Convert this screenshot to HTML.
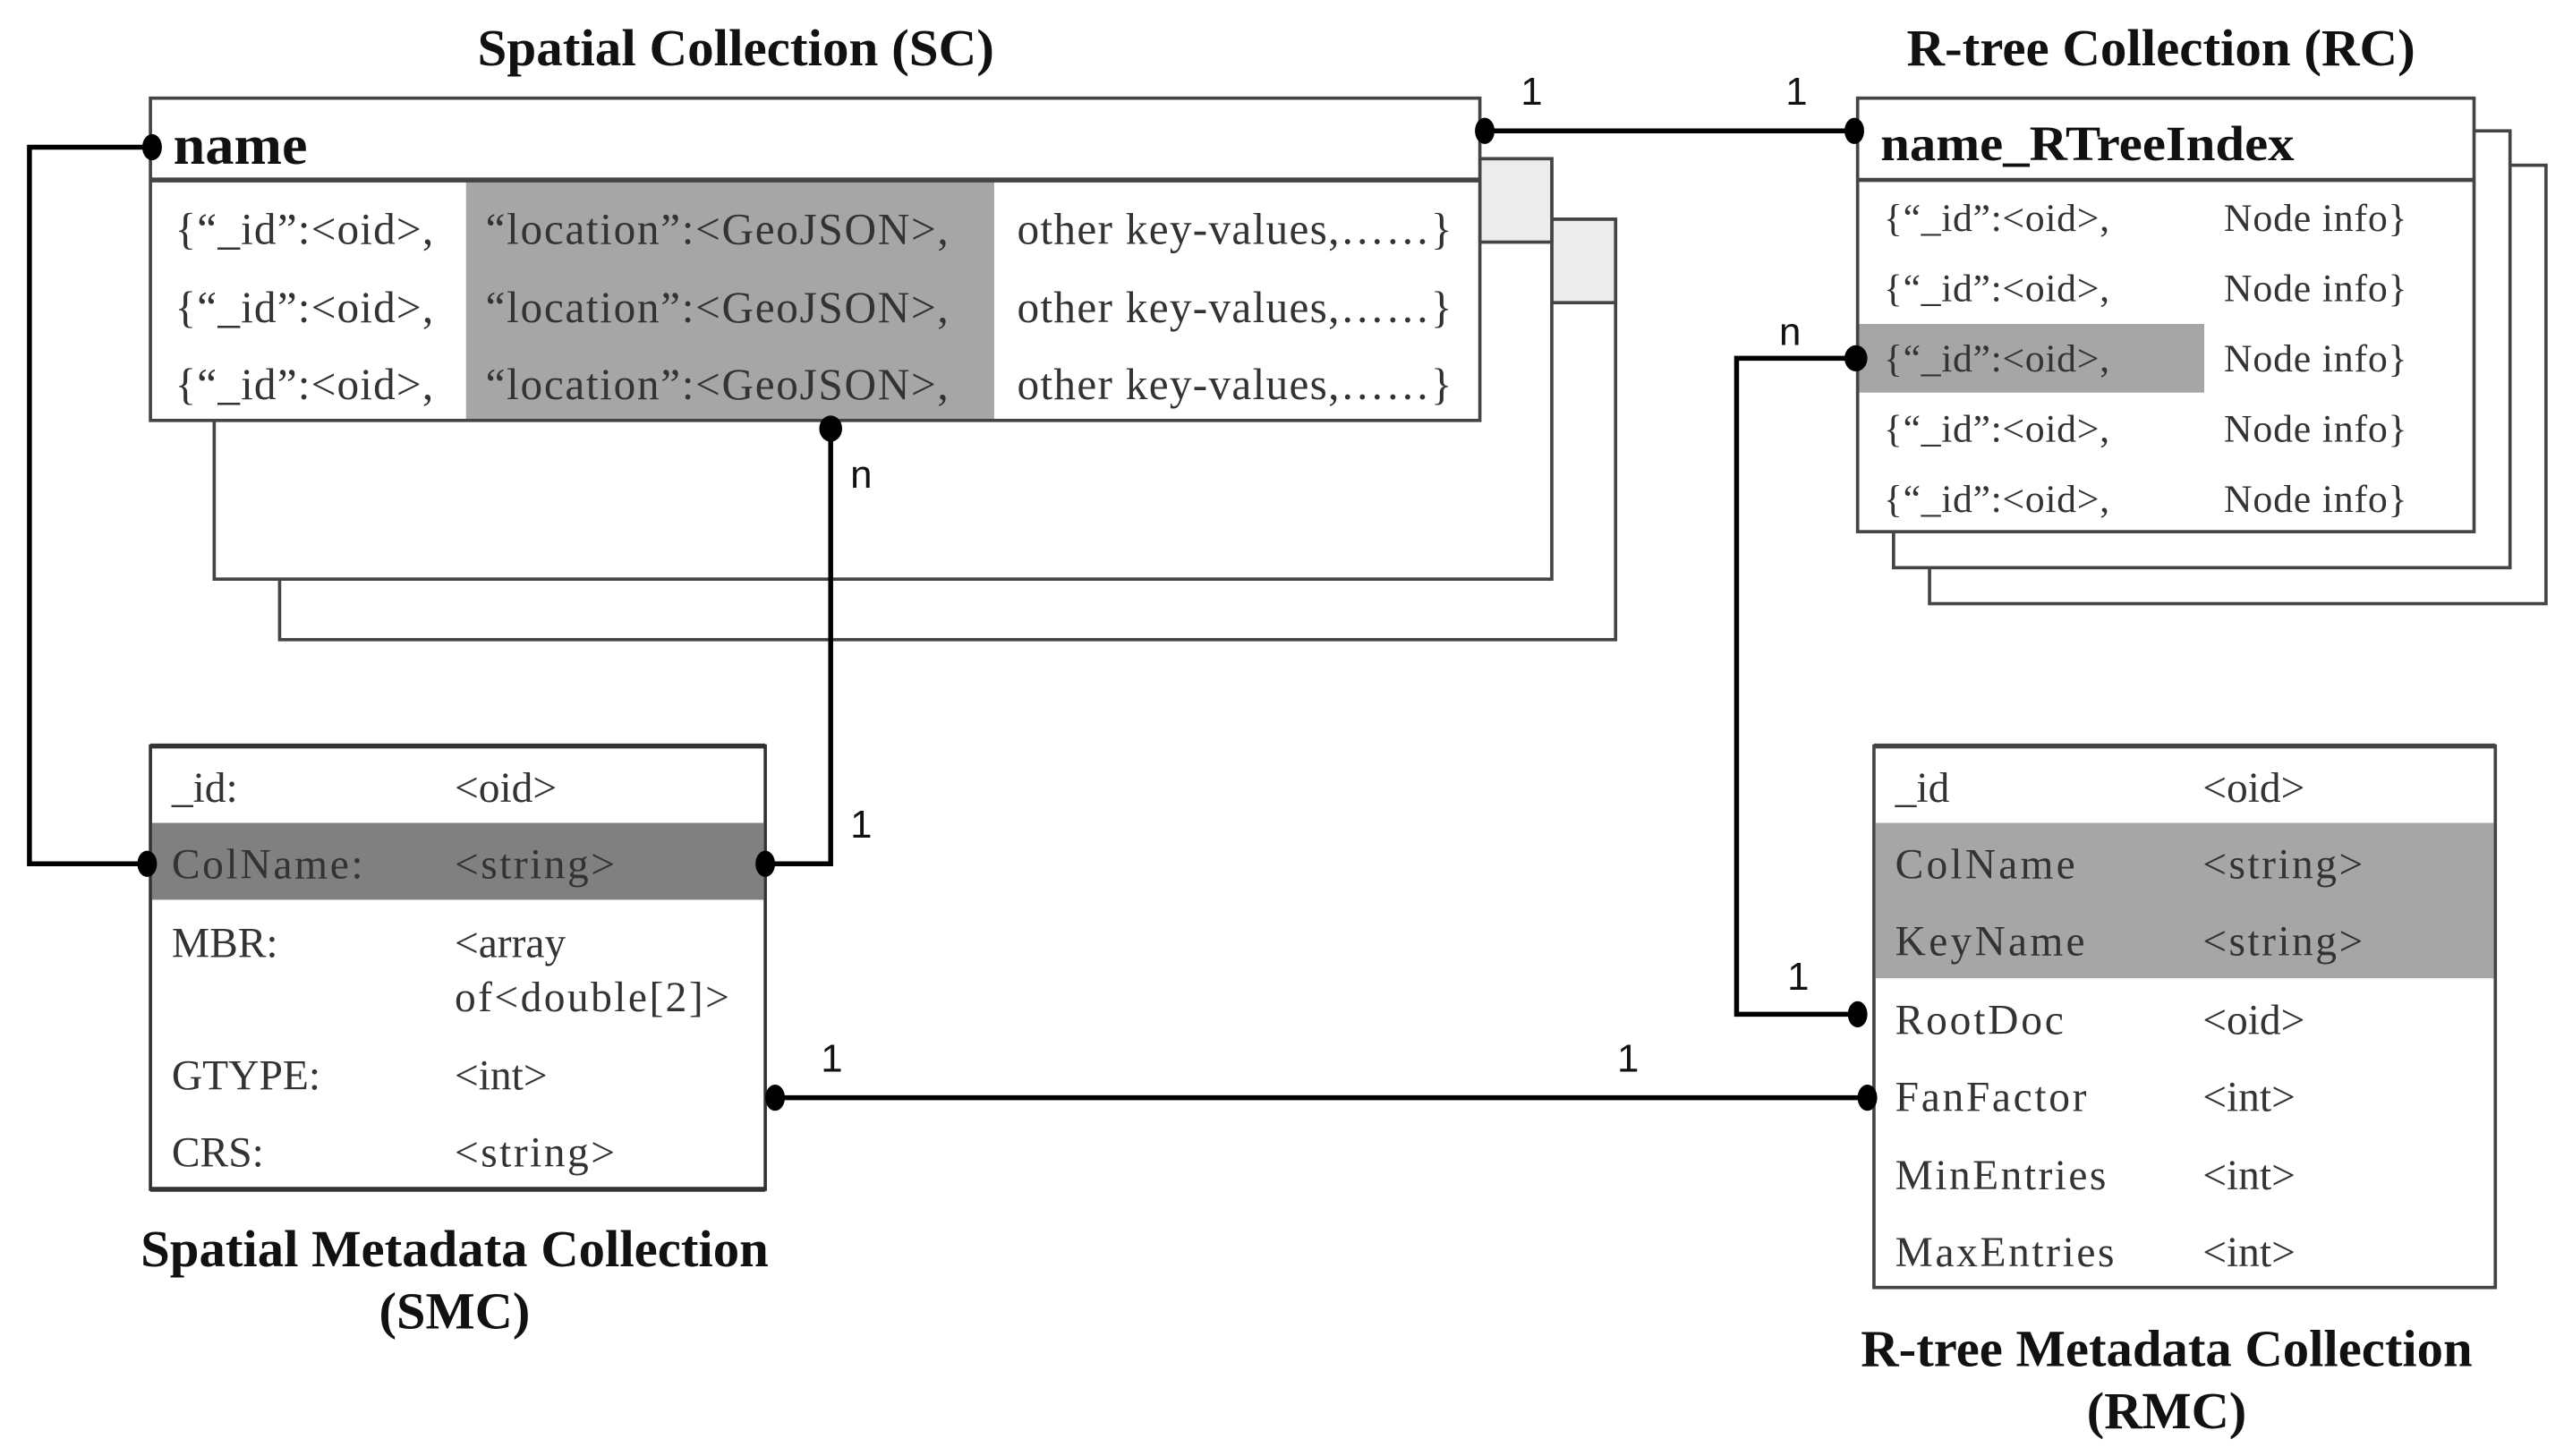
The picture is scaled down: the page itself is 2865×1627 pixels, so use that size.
<!DOCTYPE html>
<html><head><meta charset="utf-8"><style>
html,body{margin:0;padding:0;background:#fff;}
svg{display:block}
text{font-family:"Liberation Serif",serif;fill:#333;}
.b{font-weight:bold;fill:#111;}
.l{font-family:"Liberation Sans",sans-serif;fill:#111;}
</style></head><body>
<svg width="2865" height="1627" viewBox="0 0 1568 890" preserveAspectRatio="none" xmlns="http://www.w3.org/2000/svg">
<g fill="none" stroke="#444" stroke-width="2">
<rect x="171" y="134" width="817" height="257" fill="#fff"/>
<rect x="949" y="134" width="39" height="51" fill="#ececec"/>
<rect x="131" y="97" width="818" height="257" fill="#fff"/>
<rect x="905" y="97" width="44" height="51" fill="#ececec"/>
<rect x="1180" y="101" width="377" height="268" fill="#fff"/>
<rect x="1158" y="80" width="377" height="267" fill="#fff"/>
</g>
<rect x="92" y="60" width="813" height="197" fill="#fff" stroke="#444" stroke-width="2"/>
<rect x="285" y="111" width="323" height="145" fill="#a6a6a6"/>
<line x1="92" y1="110" x2="905" y2="110" stroke="#444" stroke-width="3"/>
<rect x="1136" y="60" width="377" height="265" fill="#fff" stroke="#444" stroke-width="2"/>
<rect x="1137" y="198" width="211" height="42" fill="#a6a6a6"/>
<line x1="1136" y1="110" x2="1513" y2="110" stroke="#444" stroke-width="2.5"/>
<rect x="92" y="456" width="376" height="271" fill="#fff" stroke="#333" stroke-width="2"/>
<rect x="93" y="503" width="374" height="47" fill="#808080"/>
<line x1="92" y1="456" x2="468" y2="456" stroke="#333" stroke-width="3"/>
<line x1="92" y1="727" x2="468" y2="727" stroke="#333" stroke-width="3"/>
<rect x="1146" y="456" width="380" height="331" fill="#fff" stroke="#444" stroke-width="2"/>
<rect x="1147" y="503" width="378" height="95" fill="#a6a6a6"/>
<line x1="1146" y1="456" x2="1526" y2="456" stroke="#444" stroke-width="3"/>

<g stroke="#000" stroke-width="3" fill="none">
<polyline points="92,90 18,90 18,528 90,528"/>
<polyline points="508,262 508,528 468,528"/>
<line x1="908" y1="80" x2="1134" y2="80"/>
<polyline points="1134,219 1062,219 1062,620 1136,620"/>
<line x1="474" y1="671" x2="1142" y2="671"/>
</g>
<g fill="#000">
<ellipse cx="93" cy="90" rx="6" ry="8"/>
<ellipse cx="90" cy="528" rx="6" ry="8"/>
<ellipse cx="508" cy="262" rx="7" ry="8"/>
<ellipse cx="468" cy="528" rx="6" ry="8"/>
<ellipse cx="908" cy="80" rx="6" ry="8"/>
<ellipse cx="1134" cy="80" rx="6" ry="8"/>
<ellipse cx="1135" cy="219" rx="7" ry="8"/>
<ellipse cx="1136" cy="620" rx="6" ry="8"/>
<ellipse cx="474" cy="671" rx="6" ry="8"/>
<ellipse cx="1142" cy="671" rx="6" ry="8"/>
</g>
<g font-size="24">
<text class="l" x="930" y="64">1</text>
<text class="l" x="1092" y="64">1</text>
<text class="l" x="520" y="298">n</text>
<text class="l" x="520" y="512">1</text>
<text class="l" x="1088" y="211">n</text>
<text class="l" x="1093" y="605">1</text>
<text class="l" x="502" y="655">1</text>
<text class="l" x="989" y="655">1</text>
</g>

<g font-size="32">
<text class="b" x="292" y="40" textLength="316" lengthAdjust="spacingAndGlyphs">Spatial Collection (SC)</text>
<text class="b" x="1166" y="40" textLength="311" lengthAdjust="spacingAndGlyphs">R-tree Collection (RC)</text>
<text class="b" x="86" y="774" textLength="384" lengthAdjust="spacingAndGlyphs">Spatial Metadata Collection</text>
<text class="b" x="278" y="812" text-anchor="middle">(SMC)</text>
<text class="b" x="1138" y="835" textLength="374" lengthAdjust="spacingAndGlyphs">R-tree Metadata Collection</text>
<text class="b" x="1325" y="873" text-anchor="middle">(RMC)</text>
</g>
<text class="b" x="106" y="100" font-size="34" textLength="82" lengthAdjust="spacingAndGlyphs">name</text>
<text class="b" x="1150" y="98" font-size="30" textLength="253" lengthAdjust="spacingAndGlyphs">name_RTreeIndex</text>

<g font-size="27">
<text x="107" y="149" textLength="158">{“_id”:&lt;oid&gt;,</text>
<text x="107" y="197" textLength="158">{“_id”:&lt;oid&gt;,</text>
<text x="107" y="244" textLength="158">{“_id”:&lt;oid&gt;,</text>
<text x="297" y="149" textLength="283">“location”:&lt;GeoJSON&gt;,</text>
<text x="297" y="197" textLength="283">“location”:&lt;GeoJSON&gt;,</text>
<text x="297" y="244" textLength="283">“location”:&lt;GeoJSON&gt;,</text>
<text x="622" y="149" textLength="266">other key-values,……}</text>
<text x="622" y="197" textLength="266">other key-values,……}</text>
<text x="622" y="244" textLength="266">other key-values,……}</text>
</g>
<g font-size="24">
<text x="1152" y="141" textLength="138">{“_id”:&lt;oid&gt;,</text>
<text x="1152" y="184" textLength="138">{“_id”:&lt;oid&gt;,</text>
<text x="1152" y="227" textLength="138">{“_id”:&lt;oid&gt;,</text>
<text x="1152" y="270" textLength="138">{“_id”:&lt;oid&gt;,</text>
<text x="1152" y="313" textLength="138">{“_id”:&lt;oid&gt;,</text>
<text x="1360" y="141" textLength="112">Node info}</text>
<text x="1360" y="184" textLength="112">Node info}</text>
<text x="1360" y="227" textLength="112">Node info}</text>
<text x="1360" y="270" textLength="112">Node info}</text>
<text x="1360" y="313" textLength="112">Node info}</text>
</g>
<g font-size="26">
<text x="105" y="490">_id:</text><text x="278" y="490">&lt;oid&gt;</text>
<text x="105" y="537" textLength="117">ColName:</text><text x="278" y="537" textLength="98">&lt;string&gt;</text>
<text x="105" y="585">MBR:</text><text x="278" y="585">&lt;array</text>
<text x="278" y="618" textLength="168">of&lt;double[2]&gt;</text>
<text x="105" y="666">GTYPE:</text><text x="278" y="666">&lt;int&gt;</text>
<text x="105" y="713">CRS:</text><text x="278" y="713" textLength="98">&lt;string&gt;</text>

<text x="1159" y="490">_id</text><text x="1347" y="490">&lt;oid&gt;</text>
<text x="1159" y="537" textLength="110">ColName</text><text x="1347" y="537" textLength="98">&lt;string&gt;</text>
<text x="1159" y="584" textLength="116">KeyName</text><text x="1347" y="584" textLength="98">&lt;string&gt;</text>
<text x="1159" y="632" textLength="103">RootDoc</text><text x="1347" y="632">&lt;oid&gt;</text>
<text x="1159" y="679" textLength="117">FanFactor</text><text x="1347" y="679">&lt;int&gt;</text>
<text x="1159" y="727" textLength="129">MinEntries</text><text x="1347" y="727">&lt;int&gt;</text>
<text x="1159" y="774" textLength="134">MaxEntries</text><text x="1347" y="774">&lt;int&gt;</text>
</g>
</svg>
</body></html>
